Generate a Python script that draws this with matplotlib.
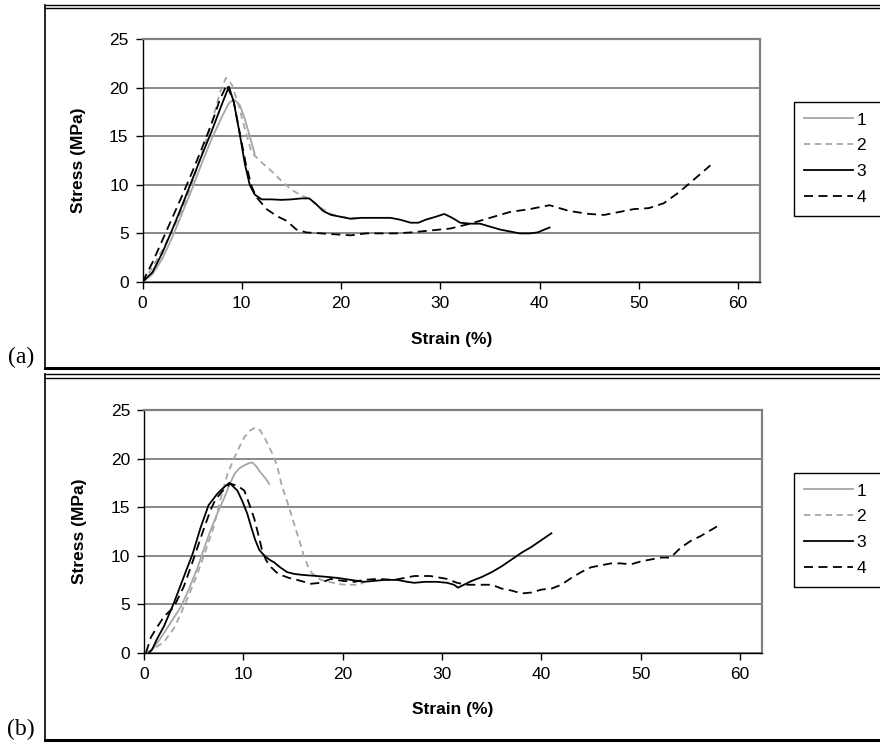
import matplotlib
matplotlib.use("Agg")
import matplotlib.pyplot as plt
from matplotlib.lines import Line2D

plt.rcParams['font.family'] = ['Liberation Sans', 'DejaVu Sans']

W, H = 880, 745

# --- panel (a) curves ---
a1_x = [0, 1, 2, 3, 4, 5, 6, 7, 8, 8.7, 9.2, 9.8, 10.3, 10.8, 11.3]
a1_y = [0, 0.8, 2.4, 4.6, 7.1, 9.6, 12.3, 14.8, 17.0, 18.4, 18.8, 18.2, 16.8, 15.0, 13.2]

a2_x = [0, 1, 2, 3, 4, 5, 6, 7, 7.8, 8.4, 9.0, 9.6, 10.3, 11.0, 12.0, 13.0, 14.0,
        15.0, 16.0, 16.5, 17.0, 18.0, 19.0, 20.0, 21.0, 22.0]
a2_y = [0, 1.5, 3.3, 5.3, 7.5, 10.2, 13.3, 16.5, 19.5, 21.0, 20.3, 18.5, 15.8, 13.3,
        12.3, 11.4, 10.4, 9.5, 8.9, 8.7, 8.4, 7.6, 7.0, 6.7, 6.6, 6.6]

a3_x = [0, 1, 2, 3, 4, 5, 6, 7, 8, 8.7, 9.2, 9.8, 10.3, 10.8, 11.3, 12, 13, 14, 15,
        16, 16.8, 17.5, 18.2, 19, 20, 21, 22, 23, 24, 25, 26, 27, 27.8, 28.5, 29.5,
        30.4, 31.2, 32, 33, 34, 35, 36, 37, 38, 39, 39.8, 40.5, 41]
a3_y = [0, 1.0, 3.0, 5.4, 7.9, 10.5, 13.1, 15.6, 18.3, 20.1, 18.5, 15.2, 12.2, 10.0,
        9.0, 8.5, 8.5, 8.45, 8.5, 8.6, 8.6, 8.0, 7.3, 6.9, 6.7, 6.5, 6.6, 6.6, 6.6,
        6.6, 6.4, 6.1, 6.1, 6.4, 6.7, 7.0, 6.6, 6.1, 6.0, 6.0, 5.7, 5.4, 5.2, 5.0,
        5.0, 5.1, 5.4, 5.6]

a4_x = [0, 1, 2, 3, 4, 5, 6, 7, 7.8, 8.5, 9.2, 9.8, 10.4, 11, 11.5, 12.5, 13.5, 14.5,
        15.5, 16.5, 18, 19.5, 21, 22.5, 24, 25.5, 27, 29, 31, 33, 35, 37, 39, 41, 43,
        45, 46.5, 48, 49.5, 51, 52.5, 54, 55.5, 57.2]
a4_y = [0, 2.0, 4.3, 6.6, 8.9, 11.3, 13.8, 16.4, 18.8, 20.3, 18.5, 15.3, 12.2, 9.8,
        8.7, 7.5, 6.8, 6.3, 5.4, 5.1, 5.0, 4.9, 4.8, 5.0, 5.0, 5.0, 5.1, 5.3, 5.5, 6.0,
        6.6, 7.2, 7.5, 7.9, 7.3, 7.0, 6.9, 7.2, 7.5, 7.6, 8.1, 9.2, 10.5, 12.0]

# --- panel (b) curves ---
b1_x = [0.3, 1, 2, 3, 3.7, 4.5, 5.4, 6, 6.7, 7.4, 8.1, 8.6, 9.1, 9.6, 10.1, 10.5,
        10.9, 11.3, 11.7, 12.2, 12.6]
b1_y = [0, 0.5, 2.0, 3.6, 4.7, 6.5, 8.8, 10.6, 12.6, 14.4, 16.0, 17.3, 18.4, 19.0,
        19.3, 19.5, 19.6, 19.2, 18.6, 18.0, 17.4]

b2_x = [0.3, 1, 2, 3, 3.7, 4.5, 5.4, 6.2, 7.0, 7.7, 8.4, 9.1, 9.6, 10.1, 10.7, 11.2,
        11.7, 12.1, 12.6, 13.1, 13.5, 13.9, 14.4, 14.8, 15.4, 15.8, 16.1, 16.5, 16.9,
        17.4, 17.8, 18.6, 19.5, 20.2, 20.8, 21.5, 22.1]
b2_y = [0, 0.4, 1.1, 2.5, 4.0, 5.9, 8.2, 10.5, 12.9, 15.8, 18.4, 20.1, 21.2, 22.2,
        22.9, 23.2, 22.9, 22.2, 21.2, 20.1, 18.8, 17.1, 15.6, 14.3, 12.3, 11.0, 9.9,
        8.9, 8.2, 7.8, 7.5, 7.3, 7.1, 7.0, 7.0, 7.0, 7.2]

b3_x = [0.5, 0.8, 1.3, 2, 3, 4, 4.9, 5.7, 6.5, 7.4, 8.0, 8.6, 9.0, 9.4, 9.9, 10.4,
        10.8, 11.2, 11.6, 12.1, 12.6, 13.1, 13.7, 14.4, 15.2, 16.1, 17.4, 18.5, 19.5,
        20.8, 22.1, 23.2, 24.2, 25.5, 26.5, 27.2, 28.3, 29.5, 30.5, 31.2, 31.6, 32.2,
        33, 34, 35, 36, 37, 38, 39, 40, 41]
b3_y = [0, 0.3, 1.4, 2.7, 5.1, 7.8, 10.2, 12.9, 15.2, 16.4, 17.0, 17.5, 17.1, 16.7,
        15.6, 14.3, 12.9, 11.6, 10.6, 10.0, 9.6, 9.3, 8.8, 8.3, 8.1, 8.0, 7.9, 7.8,
        7.7, 7.5, 7.3, 7.4, 7.5, 7.5, 7.3, 7.2, 7.3, 7.3, 7.2, 7.0, 6.7, 7.0, 7.4,
        7.8, 8.3, 8.9, 9.6, 10.3, 10.9, 11.6, 12.3]

b4_x = [0.2, 0.7, 1.3, 2.0, 3.0, 4.0, 4.7, 5.4, 6.0, 6.7, 7.2, 7.7, 8.2, 8.7, 9.4,
        10.1, 10.7, 11.1, 11.4, 11.9, 12.3, 12.8, 13.3, 13.8, 14.6, 15.4, 16.1, 16.8,
        17.8, 18.8, 20, 21.2, 22.1, 23.5, 25.2, 26.2, 27.2, 28.8, 30.5, 31.5, 32.5,
        34, 35, 36, 37, 38, 39, 40, 41, 42, 43, 44, 45, 46, 47, 48, 49, 50, 51, 52,
        53, 54, 55, 56, 57, 58]
b4_y = [0, 1.6, 2.6, 3.7, 4.7, 6.8, 8.8, 10.9, 12.7, 14.7, 15.8, 16.4, 17.0, 17.4,
        17.2, 16.7, 15.0, 13.8, 12.6, 10.5, 9.5, 8.8, 8.3, 8.0, 7.7, 7.5, 7.3, 7.1,
        7.2, 7.6, 7.4, 7.3, 7.5, 7.6, 7.5, 7.7, 7.9, 7.9, 7.6, 7.2, 7.0, 7.0, 7.0,
        6.6, 6.4, 6.1, 6.2, 6.5, 6.6, 7.0, 7.7, 8.3, 8.8, 9.0, 9.2, 9.2, 9.1, 9.4,
        9.6, 9.8, 9.8, 10.8, 11.5, 12.0, 12.6, 13.2]

labels = ['1', '2', '3', '4']
x_ticks = [0, 10, 20, 30, 40, 50, 60]
y_ticks = [0, 5, 10, 15, 20, 25]

# series styles: gray solid, gray dashed, black solid, black dashed
styles = [dict(color='#a6a6a6', ls='-'),
          dict(color='#a6a6a6', ls=(0, (3.5, 2.5))),
          dict(color='black', ls='-'),
          dict(color='black', ls=(0, (5, 3)))]

fig = plt.figure(figsize=(W / 100, H / 100), dpi=100)


def fx(px):
    return px / W


def fy(py):
    return 1 - py / H


def panel(left, right, top, bottom, series, legend_top, legend_bottom, tag, tag_y):
    ax = fig.add_axes([fx(left), fy(bottom), fx(right) - fx(left), fy(top) - fy(bottom)])
    for (xs, ys), st, lab in zip(series, styles, labels):
        ax.plot(xs, ys, lw=1.3, label=lab, **st)
    ax.set_xlim(0, 62.2)
    ax.set_ylim(0, 25)
    ax.set_xticks(x_ticks)
    ax.set_yticks(y_ticks)
    ax.grid(axis='y', color='#808080', lw=1.3)
    ax.set_axisbelow(True)
    for s in ['top', 'right']:
        ax.spines[s].set_color('#808080')
        ax.spines[s].set_linewidth(1.6)
    for s in ['left', 'bottom']:
        ax.spines[s].set_color('black')
        ax.spines[s].set_linewidth(1.0)
    ax.tick_params(direction='out', length=5, width=1, labelsize=12.5, pad=5)
    ax.set_xlabel('Strain (%)', fontsize=12.5, fontweight='bold', labelpad=15)
    ax.set_ylabel('Stress (MPa)', fontsize=12.5, fontweight='bold', labelpad=17)

    leg = ax.legend(loc='upper left', mode='expand',
                    bbox_to_anchor=(fx(794), fy(legend_bottom), 0.2,
                                    fy(legend_top) - fy(legend_bottom)),
                    bbox_transform=fig.transFigure, borderaxespad=0, fontsize=12.5,
                    handlelength=2.8, handletextpad=0.2, labelspacing=0.62,
                    borderpad=0.6, fancybox=False, framealpha=1)
    leg.get_frame().set_edgecolor('black')
    leg.get_frame().set_linewidth(1.0)

    # (a)/(b) tag, Times style
    fig.text(fx(21), fy(tag_y), tag, fontsize=17, family='Liberation Serif',
             ha='center', va='baseline')
    return ax


panel(142.5, 760, 39, 282, [(a1_x, a1_y), (a2_x, a2_y), (a3_x, a3_y), (a4_x, a4_y)],
      102, 217, '(a)', 363)
panel(144, 762, 410, 652.7, [(b1_x, b1_y), (b2_x, b2_y), (b3_x, b3_y), (b4_x, b4_y)],
      473, 587, '(b)', 735)

# outer frames around each panel
def hline(y, lw):
    fig.add_artist(Line2D([fx(45), 1.0], [fy(y), fy(y)], color='black', lw=lw))


def vline(y0, y1):
    fig.add_artist(Line2D([fx(45), fx(45)], [fy(y0), fy(y1)], color='black', lw=1.2))


hline(4.5, 1.0)
hline(7.5, 1.0)
hline(368, 2.2)
vline(4.5, 368)
hline(374.5, 1.0)
hline(377.5, 1.0)
hline(740, 2.2)
vline(374.5, 740)

fig.savefig('out.png', dpi=100)
